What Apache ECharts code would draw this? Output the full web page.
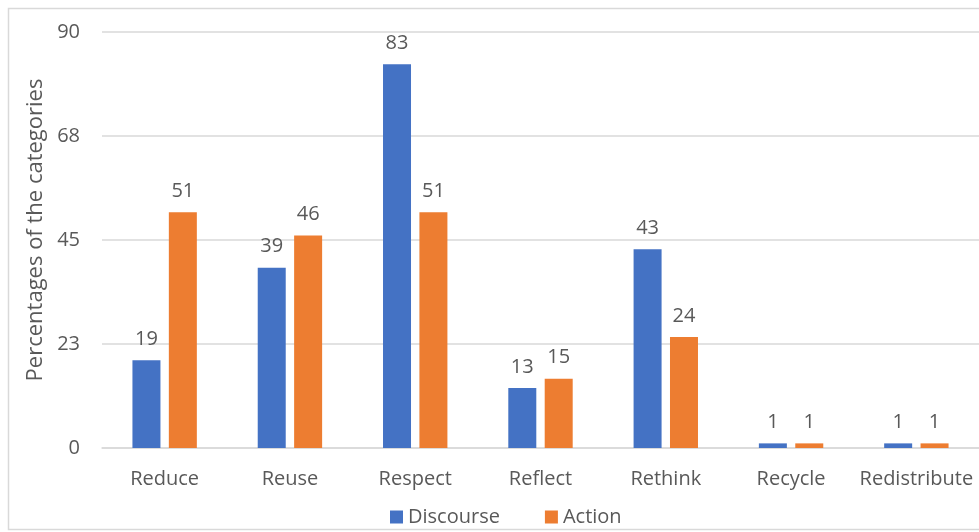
<!DOCTYPE html>
<html>
<head>
<meta charset="utf-8">
<script src="https://cdn.jsdelivr.net/npm/echarts@6/dist/echarts.min.js"></script>
<style>
  html, body { margin: 0; padding: 0; background: #fff; }
  #chart { width: 979px; height: 532px; }
</style>
</head>
<body>
<div id="chart"></div>
<script>
const categories = ['Reduce', 'Reuse', 'Respect', 'Reflect', 'Rethink', 'Recycle', 'Redistribute']
const discourse = [19, 39, 83, 13, 43, 1, 1]
const action = [51, 46, 51, 15, 24, 1, 1]
const yTicks = [0, 22.5, 45, 67.5, 90]
const yTitle = 'Percentages of the categories'

const font = '"Open Sans", "Noto Sans", sans-serif'
const textColor = '#595959'

const chart = echarts.init(document.getElementById('chart'))

const option = {
  animation: false,
  textStyle: { fontFamily: font },
  graphic: [
    {
      type: 'rect',
      shape: { x: 8.5, y: 8.5, width: 1000, height: 521 },
      style: { fill: 'none', stroke: '#d9d9d9', lineWidth: 1.5 },
      silent: true,
    },
    {
      // y axis title, placed by hand to sit a little above the grid centre
      type: 'text',
      x: 36,
      y: 230,
      rotation: Math.PI / 2,
      style: {
        text: yTitle,
        font: '22px ' + font,
        fill: textColor,
        align: 'center',
        verticalAlign: 'middle',
      },
      silent: true,
    },
  ],
  legend: {
    bottom: 0,
    left: 385,
    itemWidth: 13,
    itemHeight: 13,
    itemGap: 45,
    icon: 'rect',
    textStyle: { fontSize: 20, color: textColor, fontFamily: font },
    data: ['Discourse', 'Action'],
  },
  grid: {
    left: 102,
    top: 32,
    width: 882,
    height: 416,
  },
  xAxis: {
    type: 'category',
    data: categories,
    axisLine: { lineStyle: { color: '#d9d9d9', width: 1.5 } },
    axisTick: { show: false },
    axisLabel: { color: textColor, fontSize: 20, margin: 21, interval: 0, fontFamily: font },
  },
  yAxis: {
    type: 'value',
    min: yTicks[0],
    max: yTicks[yTicks.length - 1],
    interval: 22.5,
    axisLine: { show: false },
    axisTick: { show: false },
    axisLabel: {
      color: textColor,
      fontSize: 20,
      margin: 22,
      fontFamily: font,
      formatter: (v) => String(Math.round(v)),
    },
    splitLine: { lineStyle: { color: '#d9d9d9', width: 1.5 } },
  },
  series: [
    {
      name: 'Discourse',
      type: 'bar',
      data: discourse,
      barWidth: 28,
      barGap: '30%',
      itemStyle: { color: '#4472c4' },
      label: { show: true, position: 'top', distance: 11, fontSize: 20, color: textColor, fontFamily: font },
    },
    {
      name: 'Action',
      type: 'bar',
      data: action,
      barWidth: 28,
      barGap: '30%',
      itemStyle: { color: '#ed7d31' },
      label: { show: true, position: 'top', distance: 11, fontSize: 20, color: textColor, fontFamily: font },
    },
  ],
}

chart.setOption(option)
</script>
</body>
</html>
